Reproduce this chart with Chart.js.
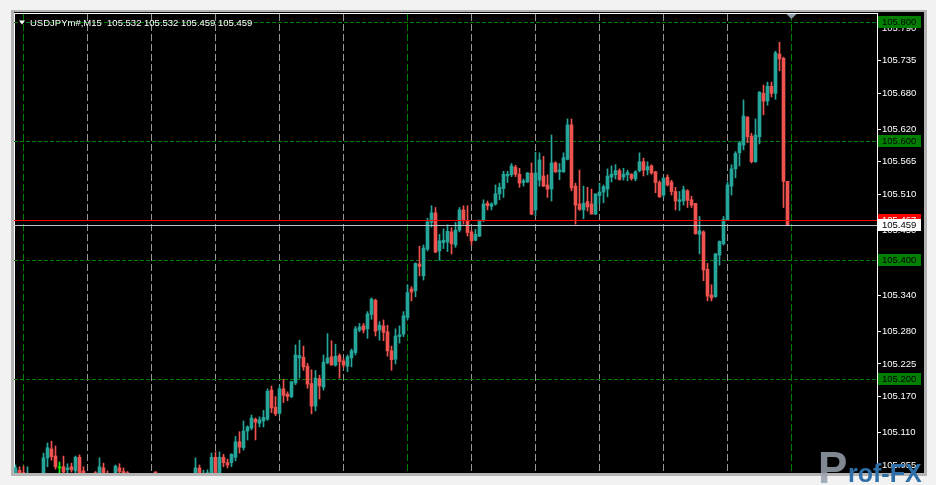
<!DOCTYPE html>
<html>
<head>
<meta charset="utf-8">
<script src="https://cdn.jsdelivr.net/npm/chart.js@4.4.0/dist/chart.umd.min.js"></script>
<style>
  html, body { margin: 0; padding: 0; background: #ececec; }
  canvas { display: block; }
</style>
</head>
<body>
<canvas id="chart1" width="936" height="485"></canvas>
<script>
// USDJPYm#, M15 - last 194 bars
const symbolName = 'USDJPYm#,M15';

const opens = [
  105.040, 105.046, 105.042, 105.030, 105.038, 105.030, 105.024, 105.036, 105.067, 105.082,
  105.070, 105.050, 105.052, 105.047, 105.052, 105.045, 105.068, 105.045, 105.036, 105.026,
  105.042, 105.036, 105.050, 105.040, 105.032, 105.036, 105.050, 105.044, 105.042, 105.034,
  105.026, 105.018, 105.027, 105.022, 105.031, 105.043, 105.036, 105.028, 105.020, 105.025,
  105.016, 105.022, 105.030, 105.026, 105.033, 105.030, 105.050, 105.036, 105.038, 105.040,
  105.068, 105.040, 105.068, 105.059, 105.059, 105.068, 105.094, 105.084, 105.112, 105.117,
  105.132, 105.125, 105.129, 105.132, 105.181, 105.152, 105.142, 105.183, 105.174, 105.170,
  105.193, 105.235, 105.236, 105.221, 105.192, 105.154, 105.200, 105.186, 105.227, 105.237,
  105.223, 105.239, 105.230, 105.221, 105.235, 105.244, 105.282, 105.289, 105.284, 105.308,
  105.332, 105.282, 105.289, 105.279, 105.247, 105.233, 105.271, 105.275, 105.303, 105.351,
  105.348, 105.393, 105.373, 105.418, 105.463, 105.479, 105.415, 105.429, 105.430, 105.447,
  105.425, 105.450, 105.484, 105.465, 105.447, 105.433, 105.440, 105.466, 105.495, 105.490,
  105.494, 105.511, 105.520, 105.541, 105.543, 105.556, 105.544, 105.530, 105.531, 105.546,
  105.484, 105.534, 105.541, 105.526, 105.519, 105.563, 105.548, 105.548, 105.569, 105.627,
  105.524, 105.494, 105.484, 105.498, 105.494, 105.477, 105.508, 105.514, 105.519, 105.539,
  105.543, 105.550, 105.539, 105.543, 105.544, 105.536, 105.550, 105.565, 105.551, 105.558,
  105.548, 105.530, 105.509, 105.539, 105.531, 105.515, 105.498, 105.499, 105.516, 105.501,
  105.495, 105.443, 105.447, 105.384, 105.341, 105.338, 105.408, 105.427, 105.467, 105.524,
  105.553, 105.580, 105.593, 105.640, 105.608, 105.565, 105.607, 105.680, 105.667, 105.692,
  105.680, 105.746, 105.739, 105.532
];
const highs = [
  105.055, 105.052, 105.053, 105.052, 105.041, 105.036, 105.040, 105.075, 105.092, 105.095,
  105.087, 105.060, 105.070, 105.057, 105.058, 105.070, 105.072, 105.052, 105.040, 105.038,
  105.044, 105.067, 105.058, 105.045, 105.040, 105.055, 105.057, 105.050, 105.044, 105.040,
  105.032, 105.030, 105.036, 105.034, 105.040, 105.044, 105.040, 105.034, 105.030, 105.032,
  105.026, 105.034, 105.038, 105.036, 105.040, 105.067, 105.055, 105.046, 105.047, 105.075,
  105.077, 105.077, 105.073, 105.065, 105.074, 105.103, 105.111, 105.129, 105.121, 105.139,
  105.134, 105.136, 105.147, 105.183, 105.188, 105.170, 105.188, 105.199, 105.178, 105.196,
  105.257, 105.265, 105.255, 105.226, 105.215, 105.214, 105.206, 105.240, 105.276, 105.264,
  105.258, 105.242, 105.234, 105.240, 105.250, 105.288, 105.293, 105.293, 105.313, 105.336,
  105.334, 105.296, 105.299, 105.290, 105.255, 105.284, 105.289, 105.313, 105.358, 105.355,
  105.395, 105.423, 105.425, 105.470, 105.491, 105.488, 105.443, 105.452, 105.459, 105.454,
  105.463, 105.488, 105.491, 105.491, 105.450, 105.451, 105.467, 105.501, 105.499, 105.496,
  105.526, 105.529, 105.549, 105.549, 105.562, 105.559, 105.554, 105.536, 105.547, 105.563,
  105.581, 105.580, 105.574, 105.543, 105.610, 105.565, 105.562, 105.580, 105.637, 105.637,
  105.529, 105.551, 105.524, 105.522, 105.519, 105.511, 105.529, 105.526, 105.553, 105.558,
  105.560, 105.553, 105.554, 105.551, 105.545, 105.550, 105.580, 105.571, 105.565, 105.560,
  105.549, 105.533, 105.539, 105.543, 105.534, 105.522, 105.515, 105.524, 105.518, 105.507,
  105.495, 105.473, 105.449, 105.394, 105.358, 105.411, 105.432, 105.473, 105.531, 105.560,
  105.582, 105.599, 105.669, 105.641, 105.613, 105.637, 105.683, 105.694, 105.699, 105.699,
  105.751, 105.766, 105.741, 105.532
];
const lows = [
  105.035, 105.035, 105.030, 105.025, 105.022, 105.018, 105.020, 105.032, 105.052, 105.063,
  105.048, 105.041, 105.040, 105.041, 105.043, 105.041, 105.030, 105.030, 105.020, 105.018,
  105.030, 105.032, 105.028, 105.026, 105.024, 105.030, 105.040, 105.030, 105.028, 105.020,
  105.012, 105.010, 105.020, 105.015, 105.024, 105.030, 105.022, 105.014, 105.008, 105.012,
  105.006, 105.016, 105.020, 105.018, 105.024, 105.026, 105.030, 105.030, 105.032, 105.035,
  105.035, 105.036, 105.052, 105.050, 105.052, 105.062, 105.075, 105.080, 105.097, 105.114,
  105.097, 105.119, 105.119, 105.130, 105.143, 105.138, 105.140, 105.160, 105.163, 105.168,
  105.190, 105.201, 105.214, 105.184, 105.141, 105.146, 105.166, 105.181, 105.225, 105.223,
  105.221, 105.201, 105.219, 105.212, 105.220, 105.240, 105.279, 105.277, 105.268, 105.300,
  105.272, 105.265, 105.264, 105.238, 105.214, 105.225, 105.260, 105.271, 105.299, 105.331,
  105.338, 105.373, 105.366, 105.415, 105.455, 105.412, 105.399, 105.419, 105.414, 105.410,
  105.421, 105.447, 105.460, 105.440, 105.425, 105.432, 105.439, 105.464, 105.484, 105.484,
  105.492, 105.501, 105.505, 105.530, 105.540, 105.540, 105.522, 105.524, 105.530, 105.476,
  105.474, 105.524, 105.523, 105.505, 105.499, 105.547, 105.535, 105.547, 105.568, 105.516,
  105.460, 105.483, 105.469, 105.482, 105.477, 105.476, 105.494, 105.496, 105.506, 105.531,
  105.536, 105.534, 105.534, 105.533, 105.534, 105.533, 105.548, 105.541, 105.543, 105.544,
  105.513, 105.505, 105.505, 105.524, 105.509, 105.484, 105.483, 105.492, 105.488, 105.488,
  105.443, 105.410, 105.365, 105.331, 105.331, 105.337, 105.391, 105.425, 105.466, 105.509,
  105.538, 105.558, 105.585, 105.597, 105.563, 105.564, 105.595, 105.644, 105.660, 105.674,
  105.670, 105.718, 105.488, 105.459
];
const closes = [
  105.050, 105.038, 105.036, 105.040, 105.030, 105.024, 105.036, 105.067, 105.084, 105.069,
  105.052, 105.050, 105.043, 105.050, 105.047, 105.068, 105.036, 105.038, 105.026, 105.034,
  105.036, 105.052, 105.038, 105.032, 105.036, 105.053, 105.044, 105.038, 105.034, 105.026,
  105.018, 105.027, 105.022, 105.031, 105.036, 105.036, 105.028, 105.020, 105.025, 105.016,
  105.022, 105.030, 105.026, 105.033, 105.030, 105.050, 105.036, 105.040, 105.042, 105.068,
  105.040, 105.068, 105.059, 105.055, 105.073, 105.094, 105.085, 105.112, 105.119, 105.134,
  105.127, 105.131, 105.135, 105.179, 105.151, 105.141, 105.183, 105.172, 105.170, 105.195,
  105.240, 105.239, 105.220, 105.191, 105.154, 105.201, 105.188, 105.228, 105.235, 105.223,
  105.238, 105.229, 105.223, 105.237, 105.247, 105.284, 105.287, 105.282, 105.309, 105.334,
  105.280, 105.290, 105.278, 105.247, 105.232, 105.272, 105.274, 105.306, 105.345, 105.346,
  105.394, 105.389, 105.420, 105.464, 105.479, 105.413, 105.432, 105.433, 105.448, 105.427,
  105.450, 105.484, 105.467, 105.446, 105.432, 105.443, 105.465, 105.494, 105.491, 105.494,
  105.511, 105.522, 105.544, 105.544, 105.558, 105.544, 105.529, 105.533, 105.546, 105.477,
  105.546, 105.568, 105.524, 105.519, 105.563, 105.548, 105.551, 105.572, 105.627, 105.521,
  105.492, 105.485, 105.495, 105.489, 105.477, 105.511, 105.514, 105.523, 105.541, 105.544,
  105.550, 105.535, 105.544, 105.547, 105.537, 105.548, 105.565, 105.551, 105.557, 105.546,
  105.530, 105.506, 105.537, 105.526, 105.515, 105.499, 105.501, 105.518, 105.500, 105.492,
  105.444, 105.449, 105.383, 105.339, 105.336, 105.410, 105.431, 105.468, 105.526, 105.553,
  105.579, 105.597, 105.642, 105.607, 105.565, 105.610, 105.682, 105.667, 105.692, 105.680,
  105.748, 105.738, 105.532, 105.459
];

const priceTicks = [105.055, 105.110, 105.170, 105.225, 105.280, 105.340, 105.395,
                    105.450, 105.510, 105.565, 105.620, 105.680, 105.735, 105.790];
const levelLines = [105.800, 105.600, 105.400, 105.200];
const askPrice = 105.467;
const bidPrice = closes[closes.length - 1];

// bar separators every 16 bars (4 hours), day separators every 96 bars
const firstSeparator = 2;
const lastSeparator = 194;
const daySeparators = [2, 98, 194];

const bullColor = '#26a69a';
const bearColor = '#ef5350';
const dojiColor = '#00ff00';

const candleColor = opens.map((o, i) => closes[i] > o ? bullColor : (closes[i] < o ? bearColor : dojiColor));

let ctx = document.getElementById('chart1').getContext('2d');

const mtFont = '"Liberation Sans", Arial, sans-serif';

const frame = {
  id: 'frame',
  beforeDraw(chart) {
    const c = chart.ctx;
    c.save();
    c.fillStyle = '#f2f2f2';
    c.fillRect(0, 0, 936, 485);
    c.fillStyle = '#b4b4b4';
    c.fillRect(11, 10, 916, 466);
    c.fillStyle = '#000000';
    c.fillRect(14, 12, 910, 461);
    c.fillStyle = '#ffffff';
    c.fillRect(14, 13, 864, 1);
    c.fillRect(14, 13, 1, 460);
    c.restore();
  },
  beforeDatasetsDraw(chart) {
    const c = chart.ctx;
    const a = chart.chartArea;
    const y = chart.scales.y;
    const x = chart.scales.x;
    c.save();
    c.lineWidth = 1;

    // vertical separators
    c.setLineDash([7, 3]);
    for (let v = firstSeparator; v <= lastSeparator; v += 16) {
      const px = Math.round(x.getPixelForValue(v)) - 0.5;
      c.strokeStyle = daySeparators.includes(v) ? '#008000' : '#989898';
      c.beginPath();
      c.moveTo(px, a.top);
      c.lineTo(px, a.bottom);
      c.stroke();
    }

    // horizontal levels
    c.strokeStyle = '#008000';
    c.setLineDash([4, 2]);
    levelLines.forEach(p => {
      const py = Math.round(y.getPixelForValue(p)) + 0.5;
      c.beginPath();
      c.moveTo(a.left, py);
      c.lineTo(a.right, py);
      c.stroke();
    });
    c.restore();
  },
  afterDatasetsDraw(chart) {
    const c = chart.ctx;
    const a = chart.chartArea;
    const y = chart.scales.y;
    c.save();
    c.lineWidth = 1;
    c.strokeStyle = '#ff0000';
    let py = Math.round(y.getPixelForValue(askPrice)) + 0.5;
    c.beginPath(); c.moveTo(a.left, py); c.lineTo(a.right, py); c.stroke();
    c.strokeStyle = '#b8c2ce';
    py = Math.round(y.getPixelForValue(bidPrice)) + 0.5;
    c.beginPath(); c.moveTo(a.left, py); c.lineTo(a.right, py); c.stroke();
    c.restore();
  },
  afterDraw(chart) {
    const c = chart.ctx;
    const y = chart.scales.y;
    const x = chart.scales.x;
    c.save();
    c.font = '9.5px ' + mtFont;
    c.textBaseline = 'middle';

    function box(p, bg, fg) {
      const py = Math.round(y.getPixelForValue(p));
      c.fillStyle = bg;
      c.fillRect(878, py - 6, 43, 12);
      c.fillStyle = fg;
      c.fillText(p.toFixed(3), 882, py + 0.5);
    }
    levelLines.forEach(p => box(p, '#007f00', '#000000'));
    box(askPrice, '#ff0000', '#ffffff');
    box(bidPrice, '#ffffff', '#000000');

    // header
    c.fillStyle = '#ffffff';
    c.beginPath();
    c.moveTo(19, 20.5); c.lineTo(25, 20.5); c.lineTo(22, 24.5); c.closePath();
    c.fill();
    const last = opens.length - 1;
    const header = symbolName + '  ' + [opens[last], highs[last], lows[last], closes[last]].map(v => v.toFixed(3)).join(' ');
    c.fillText(header, 30, 23);

    // chart shift marker
    const sx = Math.round(x.getPixelForValue(lastSeparator)) - 0.5;
    c.fillStyle = '#8d9aa8';
    c.beginPath();
    c.moveTo(sx - 5, 14); c.lineTo(sx + 5, 14); c.lineTo(sx, 19); c.closePath();
    c.fill();

    // watermark
    c.textBaseline = 'alphabetic';
    c.fillStyle = 'rgba(150,160,170,0.85)';
    c.font = 'bold 44px ' + mtFont;
    c.fillText('P', 818, 483);
    c.fillStyle = '#2f6fa8';
    c.font = 'bold 25px ' + mtFont;
    c.fillText('rof-FX', 848, 482);
    c.restore();
  }
};

let myChart = new Chart(ctx, {
  type: 'bar',
  data: {
    datasets: [{
      label: 'wick',
      data: opens.map((o, i) => ({ x: i, y: [lows[i], highs[i]] })),
      backgroundColor: candleColor,
      barThickness: 1,
      grouped: false,
      borderWidth: 0,
      clip: 0
    }, {
      label: 'body',
      data: opens.map((o, i) => ({ x: i, y: [o, closes[i]] })),
      backgroundColor: candleColor,
      barThickness: 3,
      minBarLength: 1,
      grouped: false,
      borderWidth: 0,
      clip: 0
    }]
  },
  options: {
    responsive: false,
    animation: false,
    devicePixelRatio: 1,
    layout: { padding: { left: 14, right: 12, top: 14, bottom: 12 } },
    plugins: { legend: { display: false }, tooltip: { enabled: false } },
    scales: {
      x: {
        type: 'linear',
        min: -0.375,
        max: 215.375,
        offset: false,
        afterFit: s => { s.height = 0; },
        ticks: { display: false },
        grid: { display: false },
        border: { display: false }
      },
      y: {
        position: 'right',
        min: 105.0415,
        max: 105.8135,
        afterBuildTicks: s => { s.ticks = priceTicks.map(v => ({ value: v })); },
        afterFit: s => { s.width = 47; },
        ticks: {
          color: '#ffffff',
          font: { family: mtFont, size: 9.5 },
          padding: 1,
          autoSkip: false,
          callback: v => Number(v).toFixed(3)
        },
        grid: { drawOnChartArea: false, drawTicks: true, tickLength: 4, tickColor: '#ffffff', color: '#ffffff' },
        border: { display: true, color: '#ffffff', width: 1 }
      }
    }
  },
  plugins: [frame]
});
</script>
</body>
</html>
